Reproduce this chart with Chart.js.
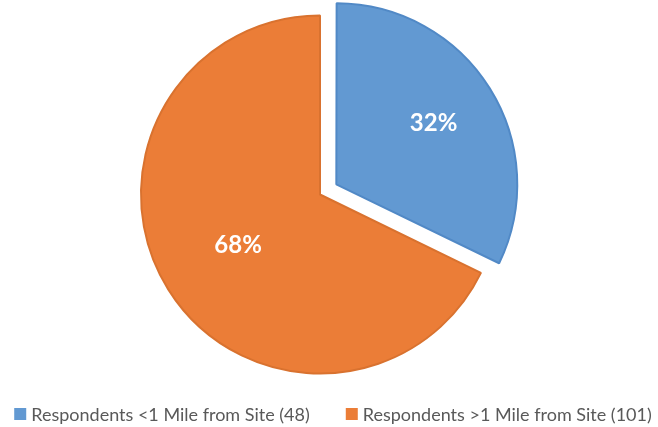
<!DOCTYPE html>
<html>
<head>
<meta charset="utf-8">
<script src="https://cdn.jsdelivr.net/npm/chart.js@4"></script>
<style>
  html, body { margin: 0; padding: 0; background: #fff; }
  #wrap { width: 658px; height: 427px; }
</style>
</head>
<body>
<div id="wrap"><canvas id="myPieChart" width="658" height="427"></canvas></div>
<script>
const categories = ['Respondents <1 Mile from Site (48)', 'Respondents >1 Mile from Site (101)'];
const respondents = [48, 101];
const sliceColors = ['#6299D2', '#EB7D37'];
const borderColors = ['#5189C6', '#D9722F'];

// white percentage labels inside each slice
const pctLabels = {
    id: 'pctLabels',
    afterDatasetsDraw(chart) {
        const ctx = chart.ctx;
        const meta = chart.getDatasetMeta(0);
        const total = respondents.reduce((a, b) => a + b, 0);
        const ratios = [0.63, 0.54];
        ctx.save();
        ctx.fillStyle = '#fff';
        ctx.font = 'bold 24px Lato';
        ctx.textAlign = 'center';
        ctx.textBaseline = 'middle';
        meta.data.forEach(function (arc, i) {
            const p = arc.getProps(['x', 'y', 'startAngle', 'endAngle', 'outerRadius', 'circumference']);
            const mid = (p.startAngle + p.endAngle) / 2;
            const off = (arc.options.offset || 0) / 4;
            const shift = off + off * (1 - Math.sin(Math.min(Math.PI, p.circumference)));
            const r = p.outerRadius * ratios[i] + shift;
            const x = p.x + Math.cos(mid) * r;
            const y = p.y + Math.sin(mid) * r;
            ctx.fillText(Math.round(respondents[i] / total * 100) + '%', x, y);
        });
        ctx.restore();
    }
};

// legend row at the bottom, drawn by hand so the spacing matches
const bottomLegend = {
    id: 'bottomLegend',
    afterDraw(chart) {
        const ctx = chart.ctx;
        const box = 12, gap = 5, itemGap = 36;
        ctx.save();
        ctx.font = '18px Lato';
        ctx.textBaseline = 'middle';
        const widths = categories.map(t => ctx.measureText(t).width);
        let total = 0;
        widths.forEach((w, i) => { total += box + gap + w + (i ? itemGap : 0); });
        let x = 333 - total / 2;
        const y = 414;
        categories.forEach(function (text, i) {
            ctx.fillStyle = sliceColors[i];
            ctx.fillRect(x, y - box / 2, box, box);
            ctx.fillStyle = '#595959';
            ctx.fillText(text, x + box + gap, y + 1);
            x += box + gap + widths[i] + itemGap;
        });
        ctx.restore();
    }
};

const pie = document.getElementById('myPieChart').getContext('2d');
const myPieChart = new Chart(pie, {
    type: 'pie',
    data: {
        labels: categories,
        datasets: [{
            data: respondents,
            backgroundColor: sliceColors,
            borderColor: borderColors,
            borderWidth: 2,
            offset: [77, 0],
            clip: false
        }]
    },
    options: {
        responsive: false,
        animation: false,
        radius: 179,
        layout: { padding: { top: 20, left: 0, right: 18, bottom: 58 } },
        plugins: {
            tooltip: { enabled: false },
            legend: { display: false }
        }
    },
    plugins: [pctLabels, bottomLegend]
});
</script>
</body>
</html>
